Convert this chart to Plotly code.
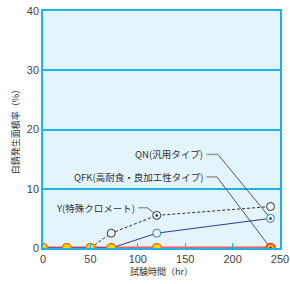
import plotly.graph_objects as go

hours = [0, 25, 50, 72, 120, 240]
y_vals = [0, 0, 0, 2.5, 5.5, 7.0]
qn_vals = [0, 0, 0, 0, 2.5, 5.0]
qfk_vals = [0, 0, 0, 0, 0, 0]

x_ticks = [0, 50, 100, 150, 200, 250]
y_ticks = [0, 10, 20, 30, 40]

label_y = "Y(特殊クロメート)"
label_qn = "QN(汎用タイプ)"
label_qfk = "QFK(高耐食・良加工性タイプ)"

FONT = "Noto Sans CJK JP"
CYAN = "rgb(26,180,232)"

fig = go.Figure()

# lines
fig.add_trace(go.Scatter(x=hours, y=qfk_vals, mode="lines",
                         line=dict(color="#f5a0a8", width=4), hoverinfo="skip"))
fig.add_trace(go.Scatter(x=hours, y=qfk_vals, mode="lines",
                         line=dict(color="#e8232a", width=1.2), hoverinfo="skip"))
fig.add_trace(go.Scatter(x=hours, y=qn_vals, mode="lines",
                         line=dict(color="#2e3c96", width=1), hoverinfo="skip"))
fig.add_trace(go.Scatter(x=hours[2:], y=y_vals[2:], mode="lines",
                         line=dict(color="#333333", width=1, dash="3px,2px"), hoverinfo="skip"))

# leader lines (label anchor -> elbow -> data point)
leaders = [
    (171, 15.8, 184.5, 240, qn_vals[5]),
    (171, 12.0, 183.5, 240, qfk_vals[5]),
    (99, 6.8, 110, 120, y_vals[4]),
]
for x0, y0, xe, xp, yp in leaders:
    fig.add_trace(go.Scatter(x=[x0 + 1.5, xe], y=[y0, y0], mode="lines",
                             line=dict(color="#9a9a9a", width=1.5), hoverinfo="skip"))
    fig.add_trace(go.Scatter(x=[xe, xp], y=[y0, yp], mode="lines",
                             line=dict(color="#444444", width=0.9), hoverinfo="skip"))

# markers
fig.add_trace(go.Scatter(x=hours[3:], y=y_vals[3:], mode="markers",
                         marker=dict(size=8, color="#eef8fc", line=dict(color="#333333", width=1)),
                         hoverinfo="skip"))
fig.add_trace(go.Scatter(x=hours[4:], y=qn_vals[4:], mode="markers",
                         marker=dict(size=8, color="#eef8fc", line=dict(color="#2f7fd0", width=1)),
                         hoverinfo="skip"))
fig.add_trace(go.Scatter(x=hours[:5], y=qfk_vals[:5], mode="markers",
                         marker=dict(size=9, color="#ffd800", line=dict(color="#f06a20", width=1.3)),
                         hoverinfo="skip"))
fig.add_trace(go.Scatter(x=hours[5:], y=qfk_vals[5:], mode="markers",
                         marker=dict(size=9, color="#ffb400", line=dict(color="#e8232a", width=1.3)),
                         hoverinfo="skip"))
# connection dots
fig.add_trace(go.Scatter(x=[240, 240, 120], y=[qn_vals[5], qfk_vals[5], y_vals[4]], mode="markers",
                         marker=dict(size=2.5, color="#222222"), hoverinfo="skip"))

for txt, (x0, y0, *_ ) in zip([label_qn, label_qfk, label_y], leaders):
    fig.add_annotation(x=x0, y=y0, text=txt, showarrow=False, xanchor="right", yanchor="middle",
                       font=dict(family=FONT, size=9.5, color="#333333"))

fig.update_layout(
    width=290, height=284,
    margin=dict(l=43, r=10, t=11, b=36, autoexpand=False),
    paper_bgcolor="white",
    plot_bgcolor="#e3f4fb",
    showlegend=False,
    font=dict(family=FONT, size=11, color="#444444"),
    xaxis=dict(range=[0, 250], tickvals=x_ticks, ticks="inside", ticklen=5, tickcolor=CYAN,
               showgrid=False, zeroline=False, showline=True, linecolor=CYAN, linewidth=1.5,
               mirror=True, automargin=False,
               title=dict(text="試験時間（hr）", font=dict(size=9, color="#333333"), standoff=4),
               tickfont=dict(family="Liberation Sans", size=11, color="#444444")),
    yaxis=dict(range=[0, 40], tickvals=y_ticks, showgrid=True, gridcolor=CYAN, gridwidth=1.5,
               zeroline=False, showline=True, linecolor=CYAN, linewidth=1.5, mirror=True, ticks="",
               automargin=False,
               title=dict(text="白錆発生面積率（%）", font=dict(size=9, color="#333333"), standoff=6),
               tickfont=dict(family="Liberation Sans", size=11, color="#444444")),
)

fig.write_html("out.html")
